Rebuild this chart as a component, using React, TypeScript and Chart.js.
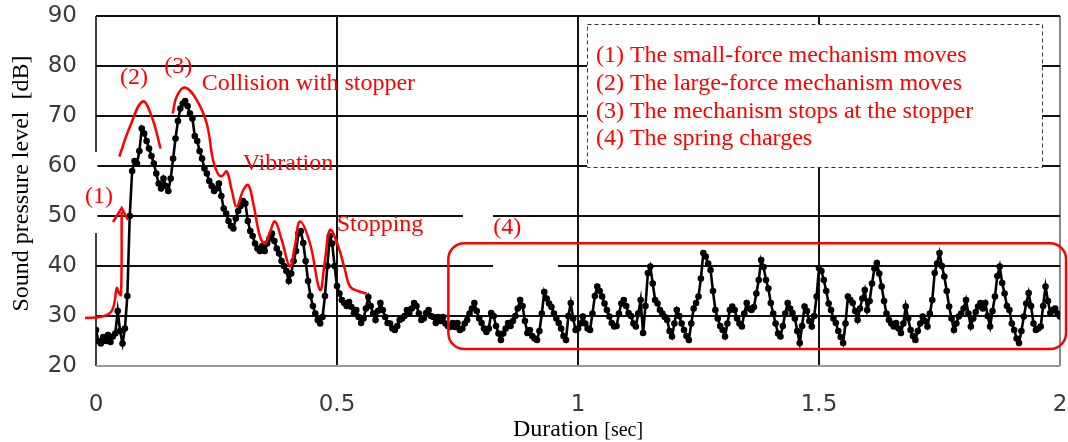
import React, { useEffect, useRef } from "react";
import { Chart, registerables } from "chart.js";

Chart.register(...registerables);

// ---------- data ----------
const sampleStep = 0.005; // seconds between samples
const xTickValues = [0, 0.5, 1, 1.5, 2];
const yTickValues = [20, 30, 40, 50, 60, 70, 80, 90];

// Sound pressure level [dB], one value every 5 ms from 0 to 2 s
const splDb = [
  27.2, 25.0, 24.5, 25.8, 25.0, 26.2, 24.8, 25.9, 26.5, 31.0, 27.0, 24.5, 27.5, 34.0, 50.0, 59.0, 61.0, 60.5, 63.0, 67.5,
  66.5, 65.0, 63.5, 62.0, 60.5, 58.5, 56.5, 55.5, 57.5, 56.0, 55.0, 57.5, 61.5, 65.5, 69.0, 71.5, 72.5, 73.0, 72.0, 70.5,
  69.5, 66.0, 65.0, 63.0, 61.5, 59.5, 58.5, 57.0, 56.0, 55.0, 55.5, 56.5, 54.0, 51.5, 50.5, 49.0, 48.0, 47.5, 49.5, 51.0,
  52.0, 53.0, 52.5, 49.0, 47.0, 46.0, 44.5, 43.5, 43.0, 44.0, 43.0, 44.5, 45.5, 46.5, 45.0, 43.5, 42.5, 41.0, 40.0, 39.0,
  37.0, 38.5, 41.0, 43.0, 46.5, 47.0, 44.6, 41.0, 37.0, 34.0, 32.0, 30.5, 29.2, 28.5, 29.8, 34.0, 40.0, 46.0, 44.5, 40.0,
  36.0, 34.5, 33.2, 32.6, 32.0, 32.8, 31.8, 30.5, 31.2, 29.8, 28.6, 29.5, 31.5, 33.8, 32.0, 30.5, 29.2, 31.0, 32.6, 31.2,
  29.8, 28.6, 28.5, 27.5, 27.2, 28.0, 29.2, 29.5, 30.0, 31.2, 30.5, 31.5, 32.6, 32.0, 30.5, 29.2, 29.5, 30.6, 31.2, 30.0,
  29.8, 28.6, 29.8, 29.0, 29.8, 28.5, 28.0, 27.8, 28.6, 27.8, 28.6, 27.2, 27.5, 28.5, 29.2, 30.5, 31.5, 32.6, 31.0, 29.5,
  28.6, 27.5, 26.8, 27.5, 30.6, 30.0, 28.0, 26.5, 25.2, 26.5, 27.5, 28.6, 28.0, 29.0, 30.0, 31.5, 33.2, 32.0, 29.0, 26.6,
  27.2, 26.0, 25.5, 25.2, 27.0, 30.5, 34.8, 33.5, 32.5, 31.8, 30.5, 29.5, 28.6, 27.5, 26.0, 25.2, 30.0, 32.6, 29.5, 27.2,
  27.5, 28.5, 29.9, 28.5, 27.5, 27.2, 30.5, 34.0, 35.9, 35.0, 33.9, 32.5, 31.2, 29.9, 28.6, 27.9, 28.0, 30.5, 32.5, 33.2,
  32.0, 30.6, 30.0, 28.5, 27.9, 30.5, 33.2, 26.6, 32.0, 38.6, 39.9, 36.5, 33.2, 32.5, 31.2, 30.5, 29.8, 29.2, 27.0, 25.9,
  28.5, 31.2, 30.0, 28.5, 27.2, 26.0, 25.2, 28.5, 31.5, 32.6, 33.9, 37.5, 42.6, 41.9, 40.5, 39.2, 35.0, 31.2, 29.5, 28.0,
  27.2, 25.9, 28.5, 31.2, 31.9, 31.2, 29.5, 28.5, 27.9, 30.5, 32.6, 31.5, 31.2, 31.8, 34.5, 37.2, 41.2, 39.8, 37.2, 35.5,
  32.6, 30.5, 28.5, 26.5, 25.9, 28.0, 30.5, 32.6, 31.5, 30.6, 29.5, 27.0, 24.6, 28.0, 31.9, 31.0, 29.0, 27.9, 30.0, 33.9,
  39.6, 39.0, 37.2, 35.0, 32.5, 31.2, 29.5, 28.6, 27.0, 25.8, 24.6, 28.5, 33.9, 33.2, 32.6, 31.0, 29.2, 31.5, 33.5, 35.2,
  31.2, 33.0, 36.5, 39.5, 40.6, 38.5, 35.9, 33.0, 30.5, 29.2, 28.5, 27.9, 28.6, 27.5, 26.6, 28.5, 31.9, 29.5, 27.2, 26.0,
  25.2, 27.0, 28.5, 29.9, 29.0, 27.9, 30.5, 33.2, 38.6, 40.5, 42.6, 40.0, 37.9, 35.0, 31.9, 29.5, 27.2, 28.5, 29.9, 30.5,
  31.5, 33.2, 30.5, 27.9, 29.5, 30.8, 31.9, 32.6, 31.5, 32.6, 30.0, 27.9, 31.0, 33.9, 38.0, 39.9, 36.6, 34.5, 32.0, 31.2,
  28.5, 27.2, 25.5, 24.6, 27.0, 29.9, 32.5, 34.6, 32.0, 28.5, 27.2, 27.5, 27.9, 32.0, 35.9, 33.0, 30.6, 31.2, 31.5, 30.5,
  29.9,
];

// hand-drawn red annotation strokes, in [seconds, dB]
const curveSmallForce = [
  [-0.0228, 29.6], [0.0083, 29.8], [0.029, 30.6], [0.0373, 32.2], [0.043, 35.6],
  [0.0467, 34.8], [0.0519, 34.2], [0.0533, 50.8],
];
const arrowHead = [[0.0353, 48.8], [0.0533, 51.6], [0.0664, 49.2]];
const curveLargeForce = [
  [0.0484, 61.9], [0.0705, 67.9], [0.0968, 72.9], [0.1155, 69.9], [0.134, 63.5],
];
const curveStopper = [
  [0.1591, 70.5], [0.1674, 73.9], [0.1846, 75.7], [0.2089, 73.2], [0.2297, 68.5],
  [0.2427, 61.2], [0.2531, 58.4], [0.2614, 58.0], [0.2712, 58.9], [0.2815, 55.2],
  [0.2919, 51.9], [0.3056, 55.2], [0.316, 56.2], [0.3263, 52.5], [0.3402, 45.9],
  [0.3506, 44.5], [0.361, 46.8], [0.3714, 48.9], [0.3853, 45.2], [0.4025, 39.9],
  [0.4129, 44.2], [0.4232, 48.9], [0.444, 44.5], [0.4647, 35.2], [0.4751, 41.2],
  [0.4855, 47.2], [0.5027, 43.9], [0.5166, 39.2], [0.527, 35.9], [0.5436, 35.0],
  [0.5616, 34.5],
];
const springBox = { x0: 0.731, x1: 2.0125, yTop: 44.54, yBottom: 23.4 };

// white patches left over from the label editing in the source figure: [x0, x1, yTop, yBottom]
const whitePatches = [
  [-0.013, 0.003, 62.8, 46.6],
  [0.7614, 0.8237, 50.9, 49.1],
  [0.8237, 0.9585, 40.9, 39.1],
];

const annotationLabels = [
  { text: "(1)", x: -0.0228, y: 52.7 },
  { text: "(2)", x: 0.0498, y: 76.4 },
  { text: "(3)", x: 0.1417, y: 78.7 },
  { text: "Collision with stopper", x: 0.2193, y: 75.3 },
  { text: "Vibration", x: 0.3044, y: 59.2 },
  { text: "Stopping", x: 0.4993, y: 47.1 },
  { text: "(4)", x: 0.8243, y: 46.4 },
];

const noteLines = [
  "(1) The small-force mechanism moves",
  "(2) The large-force mechanism moves",
  "(3) The mechanism stops at the stopper",
  "(4) The spring charges",
];
const noteBox = { x0: 1.0187, x1: 1.9627, yTop: 88.4, yBottom: 59.8, textX: 1.0373, firstBaseline: 80.74 };

const xTitleMain = "Duration";
const xTitleUnit = "[sec]";
const yTitle = "Sound pressure level  [dB]";

const RED = "#ff0000";
const SERIF = '"Liberation Serif", "Times New Roman", serif';

const toPts = (arr: number[][]) => arr.map(([x, y]) => ({ x, y }));

const overlayPlugin = {
  id: "overlay",
  beforeDatasetsDraw(chart: any) {
    const { ctx, scales } = chart;
    const px = (v: number) => scales.x.getPixelForValue(v);
    const py = (v: number) => scales.y.getPixelForValue(v);
    ctx.save();
    ctx.fillStyle = "#ffffff";
    for (const [x0, x1, y0, y1] of whitePatches) {
      ctx.fillRect(px(x0), py(y0), px(x1) - px(x0), py(y1) - py(y0));
    }
    ctx.restore();
  },
  afterDatasetsDraw(chart: any) {
    const { ctx, scales } = chart;
    const xs = scales.x;
    const ys = scales.y;
    const px = (v: number) => xs.getPixelForValue(v);
    const py = (v: number) => ys.getPixelForValue(v);
    ctx.save();

    // red rounded box (4)
    ctx.strokeStyle = RED;
    ctx.lineWidth = 2.5;
    const bx0 = px(springBox.x0), bx1 = px(springBox.x1);
    const by0 = py(springBox.yTop), by1 = py(springBox.yBottom);
    ctx.beginPath();
    ctx.roundRect(bx0, by0, bx1 - bx0, by1 - by0, 16);
    ctx.stroke();

    // red labels
    ctx.fillStyle = RED;
    ctx.font = `24px ${SERIF}`;
    ctx.textAlign = "left";
    ctx.textBaseline = "alphabetic";
    for (const l of annotationLabels) {
      ctx.fillText(l.text, px(l.x), py(l.y));
    }

    // note box
    const nx0 = px(noteBox.x0), nx1 = px(noteBox.x1);
    const ny0 = py(noteBox.yTop), ny1 = py(noteBox.yBottom);
    ctx.fillStyle = "#ffffff";
    ctx.fillRect(nx0, ny0, nx1 - nx0, ny1 - ny0);
    ctx.strokeStyle = "#333";
    ctx.lineWidth = 1;
    ctx.setLineDash([4, 3]);
    ctx.strokeRect(Math.round(nx0) + 0.5, Math.round(ny0) + 0.5, nx1 - nx0, ny1 - ny0);
    ctx.setLineDash([]);
    ctx.fillStyle = RED;
    ctx.font = `24px ${SERIF}`;
    const base = py(noteBox.firstBaseline);
    noteLines.forEach((t, i) => ctx.fillText(t, px(noteBox.textX), base + i * 27.6));

    // axis titles
    ctx.fillStyle = "#000";
    ctx.font = `24px ${SERIF}`;
    ctx.textBaseline = "alphabetic";
    ctx.textAlign = "left";
    const w1 = ctx.measureText(xTitleMain + " ").width;
    ctx.font = `20px ${SERIF}`;
    const w2 = ctx.measureText(xTitleUnit).width;
    const cx = 578;
    const startX = cx - (w1 + w2) / 2;
    ctx.font = `24px ${SERIF}`;
    ctx.fillText(xTitleMain + " ", startX, 436);
    ctx.font = `20px ${SERIF}`;
    ctx.fillText(xTitleUnit, startX + w1, 436);

    ctx.translate(22, 183.5);
    ctx.rotate(-Math.PI / 2);
    ctx.font = `24px ${SERIF}`;
    ctx.textAlign = "center";
    ctx.textBaseline = "middle";
    ctx.fillText(yTitle, 0, 0);
    ctx.restore();
  },
};

export default function App() {
  const ref = useRef<HTMLCanvasElement | null>(null);

  useEffect(() => {
    if (!ref.current) return;
    const mainPoints = splDb.map((v, i) => ({ x: +(i * sampleStep).toFixed(3), y: v }));
    const redLine = (pts: number[][], tension: number) => ({
      type: "line" as const,
      data: toPts(pts),
      borderColor: RED,
      borderWidth: 2.5,
      pointRadius: 0,
      tension,
      clip: false as any,
      order: 0,
    });
    const chart = new Chart(ref.current, {
      type: "line",
      data: {
        datasets: [
          {
            data: mainPoints,
            borderColor: "#000",
            borderWidth: 2.6,
            pointRadius: 3.3,
            pointBackgroundColor: "#000",
            pointBorderWidth: 0,
            tension: 0,
            order: 1,
          },
          redLine(curveSmallForce, 0.35),
          redLine(arrowHead, 0),
          redLine(curveLargeForce, 0.4),
          redLine(curveStopper, 0.4),
        ] as any,
      },
      options: {
        animation: false,
        responsive: false,
        devicePixelRatio: 1,
        layout: { padding: { left: 0, right: 8, top: 16, bottom: 0 } },
        plugins: { legend: { display: false }, tooltip: { enabled: false } },
        scales: {
          x: {
            type: "linear",
            min: 0,
            max: 2,
            afterBuildTicks: (s: any) => {
              s.ticks = xTickValues.map((v) => ({ value: v }));
            },
            ticks: {
              color: "#3a3a3a",
              font: { family: "DejaVu Sans", size: 23 },
              padding: 25,
              maxRotation: 0,
              autoSkip: false,
              callback: (v: any) => `${v}`,
            },
            grid: {
              color: (c: any) => (c.tick && c.tick.value === 2 ? "#888" : c.tick && c.tick.value === 0 ? "#444" : "#111"),
              lineWidth: 2,
              drawTicks: false,
            },
            border: { display: false },
            afterFit: (s: any) => {
              s.height = 76;
              s.paddingLeft = 0;
              s.paddingRight = 0;
            },
          },
          y: {
            type: "linear",
            min: 20,
            max: 90,
            afterBuildTicks: (s: any) => {
              s.ticks = yTickValues.map((v) => ({ value: v }));
            },
            ticks: {
              color: "#3a3a3a",
              font: { family: "DejaVu Sans", size: 23 },
              padding: 19,
              callback: (v: any) => `${v}`,
            },
            grid: {
              color: (c: any) => (c.tick && c.tick.value === 20 ? "#999" : "#111"),
              lineWidth: 2,
              drawTicks: false,
            },
            border: { display: false },
            afterFit: (s: any) => {
              s.width = 96;
              s.paddingTop = 0;
              s.paddingBottom = 0;
            },
          },
        },
      },
      plugins: [overlayPlugin],
    });
    return () => chart.destroy();
  }, []);

  return (
    <div style={{ position: "absolute", left: 0, top: 0, width: 1068, height: 442, background: "#fff" }}>
      <canvas ref={ref} width={1068} height={442} style={{ display: "block" }} />
    </div>
  );
}
